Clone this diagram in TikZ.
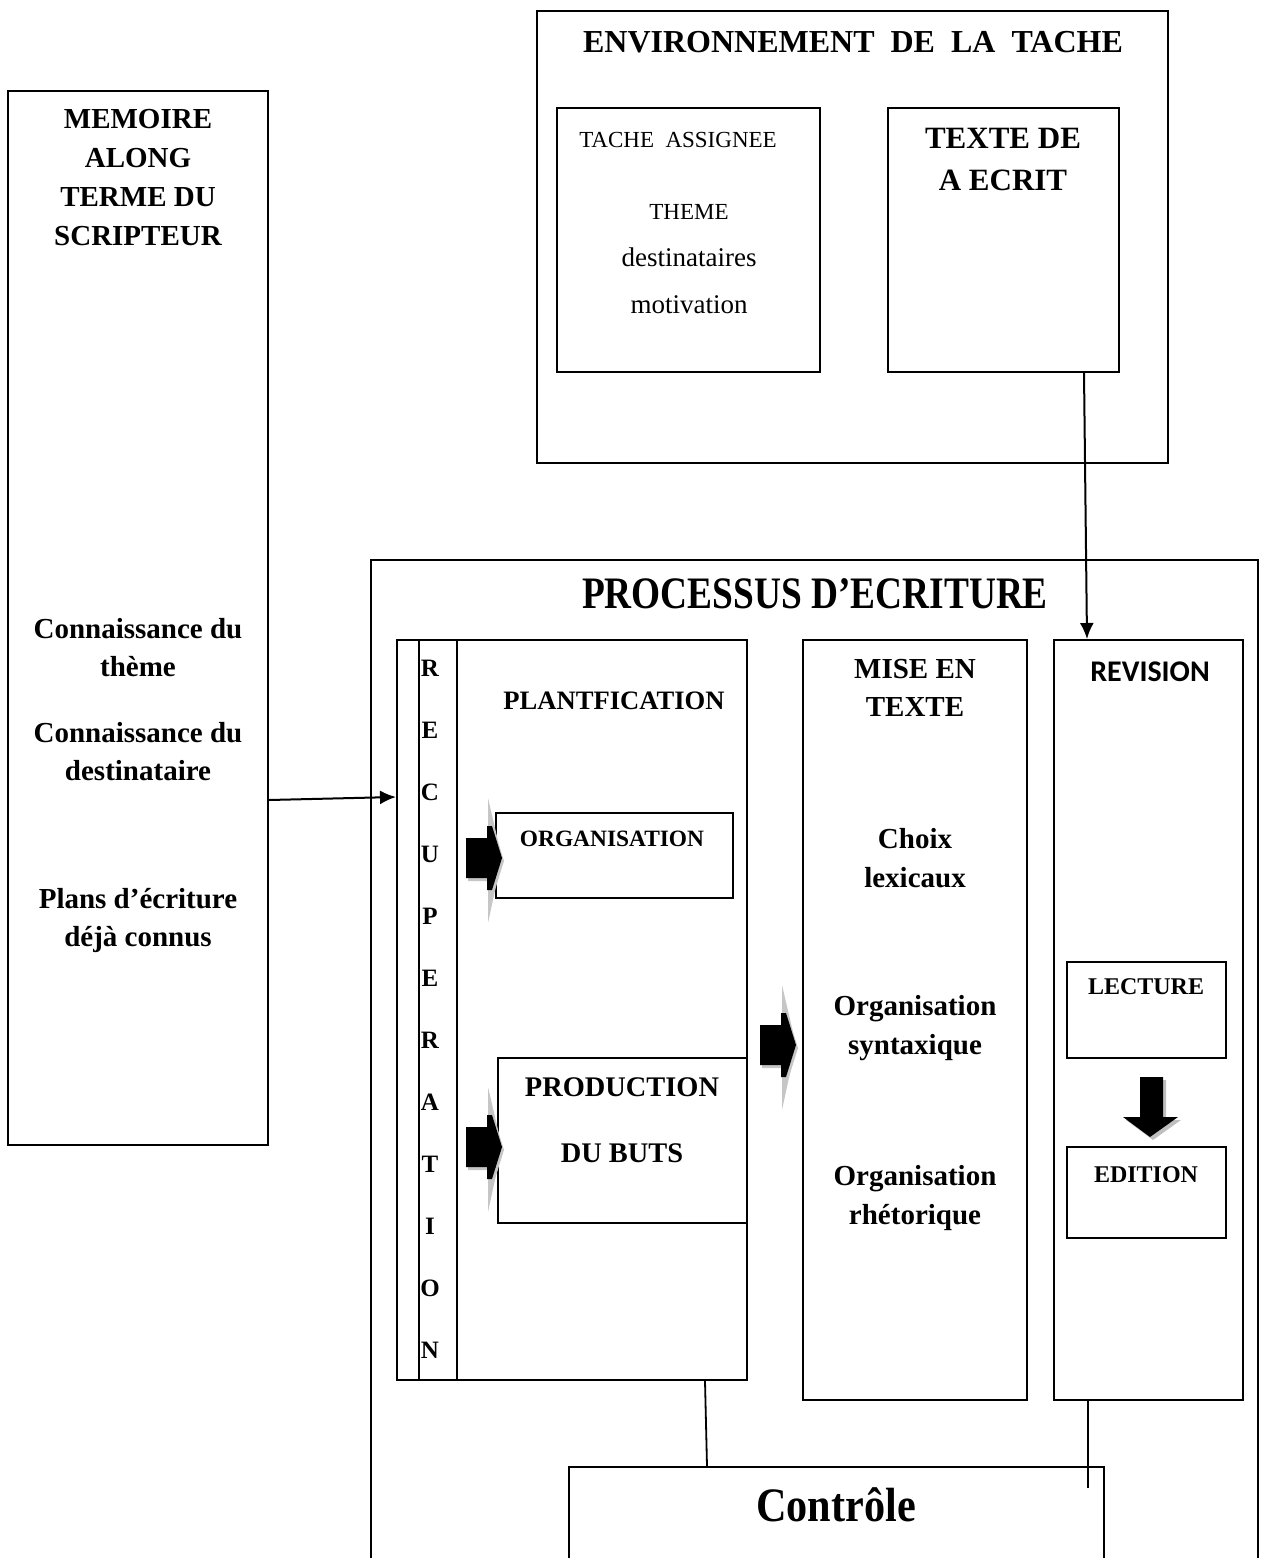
\documentclass[tikz,border=0pt]{standalone}
\usepackage{fontspec}
\usepackage{graphicx}
\setmainfont{Liberation Serif}
\newfontfamily\calib{Carlito}
\usetikzlibrary{fit,arrows.meta}
\newcommand{\myfs}[2]{\fontsize{#1}{#2}\selectfont}
\begin{document}
\begin{tikzpicture}[x=0.5pt,y=-0.5pt,
  box/.style={draw, line width=1pt, inner sep=0pt},
  lbl/.style={align=center, inner sep=0pt},
  conn/.style={line width=0.9pt},
  arr/.style={line width=1pt, -{Latex[length=8pt,width=7pt]}},
  rarrow/.pic={
    \fill[gray!45] (-14,-60) -- (0,0) -- (-14,65) -- cycle;
    \fill[gray!45, shift={(2,3)}] (-36,-20) -- (-15,-20) -- (-15,-32) -- (-10,-32) -- (0,0) -- (-10,32) -- (-15,32) -- (-15,20) -- (-36,20) -- cycle;
    \fill[black] (-36,-20) -- (-15,-20) -- (-15,-32) -- (-10,-32) -- (0,0) -- (-10,32) -- (-15,32) -- (-15,20) -- (-36,20) -- cycle;
  },
  darrow/.pic={
    \fill[gray!50, shift={(3,3)}] (-10,-60) -- (13,-60) -- (13,-20) -- (28,-20) -- (0,0) -- (-27,-20) -- (-10,-20) -- cycle;
    \fill[black] (-10,-60) -- (13,-60) -- (13,-20) -- (28,-20) -- (0,0) -- (-27,-20) -- (-10,-20) -- cycle;
  }
]
\useasboundingbox (0,0) rectangle (1260,1558);
\clip (0,0) rectangle (1260,1558);

% Memory
\node[box, fit={(8,91)(268,1145)}] (mem) {};
\node[lbl, font=\bfseries\myfs{14.5}{19.5}] (memt) at (138,178) {MEMOIRE\\ALONG\\TERME DU\\SCRIPTEUR};
\node[lbl, font=\bfseries\myfs{14.5}{19}] (k1) at (138,648) {Connaissance du\\thème};
\node[lbl, font=\bfseries\myfs{14.5}{19}] (k2) at (138,752) {Connaissance du\\destinataire};
\node[lbl, font=\bfseries\myfs{14.5}{19}] (k3) at (138,921) {Plans d’écriture\\déjà connus};

% Environment
\node[box, fit={(537,11)(1168,463)}] (env) {};
\node[lbl, font=\bfseries\myfs{16}{19}] (envt) at (853,42) {ENVIRONNEMENT\ \ DE\ \ LA\ \ TACHE};
\node[box, fit={(557,108)(820,372)}] (tache) {};
\node[lbl, font=\myfs{11.5}{14}] (tachet) at (678,140) {TACHE\ \ ASSIGNEE};
\node[lbl, font=\myfs{13.5}{23.5}] (tachei) at (689,259) {{\myfs{11.5}{23.5}THEME}\\destinataires\\motivation};
\node[box, fit={(888,108)(1119,372)}] (texte) {};
\node[lbl, font=\bfseries\myfs{15.5}{21}] (textet) at (1003,160) {TEXTE DE\\A ECRIT};

% Processus
\node[box, fit={(371,560)(1258,1600)}] (proc) {};
\node[lbl, font=\bfseries\myfs{22.5}{26}] (proct) at (815,594) {\scalebox{0.83}[1]{PROCESSUS D’ECRITURE}};

\node[box, fit={(397,640)(747,1380)}] (planif) {};
\node[box, fit={(419,640)(457,1380)}] (recup) {};
\node[lbl, font=\bfseries\myfs{12.5}{31}] (recupt) at (430,1009) {R\\E\\C\\U\\P\\E\\R\\A\\T\\I\\O\\N};
\node[lbl, font=\bfseries\myfs{13.3}{16}] (planift) at (614,701) {PLANTFICATION};
\node[box, fit={(496,813)(733,898)}] (org) {};
\node[lbl, font=\bfseries\myfs{11.7}{14}] (orgt) at (612,839) {ORGANISATION};
\node[box, fit={(498,1058)(747,1223)}] (prod) {};
\node[lbl, font=\bfseries\myfs{14.2}{33}] (prodt) at (622,1120) {PRODUCTION\\DU BUTS};

\node[box, fit={(803,640)(1027,1400)}] (mise) {};
\node[lbl, font=\bfseries\myfs{14.5}{19}] (miset) at (915,688) {MISE EN\\TEXTE};
\node[lbl, font=\bfseries\myfs{14.5}{19.5}] (m1) at (915,858) {Choix\\lexicaux};
\node[lbl, font=\bfseries\myfs{14.5}{19.5}] (m2) at (915,1028) {Organisation\\syntaxique};
\node[lbl, font=\bfseries\myfs{14.5}{19.5}] (m3) at (915,1198) {Organisation\\rhétorique};

\node[box, fit={(1054,640)(1243,1400)}] (rev) {};
\node[lbl, font=\calib\bfseries\myfs{15}{18}] (revt) at (1150,672) {REVISION};
\node[box, fit={(1067,962)(1226,1058)}] (lect) {};
\node[lbl, font=\bfseries\myfs{12}{14}] (lectt) at (1146,987) {LECTURE};
\node[box, fit={(1067,1147)(1226,1238)}] (edit) {};
\node[lbl, font=\bfseries\myfs{12}{14}] (editt) at (1146,1175) {EDITION};

\node[box, fit={(569,1467)(1104,1600)}] (ctrl) {};
\node[lbl, font=\bfseries\myfs{24}{28}] (ctrlt) at (836,1505) {\scalebox{0.88}[1]{Contrôle}};

% block arrows
\pic at (502,858) {rarrow};
\pic at (502,1147) {rarrow};
\pic at (796,1045) {rarrow};
\pic at (1150,1137) {darrow};

% connectors
\coordinate (free) at (1088,1488);
\draw[arr] ([yshift=-91pt]mem.east) -- ([yshift=106.5pt]planif.west);
\draw[arr] ([xshift=40.25pt]texte.south) -- ([xshift=-30.75pt]rev.north);
\draw[conn] ([xshift=66.5pt]planif.south) -- ([xshift=-64.75pt]ctrl.north);
\draw[conn] ([xshift=-30.25pt]rev.south) -- (free);
\end{tikzpicture}
\end{document}
